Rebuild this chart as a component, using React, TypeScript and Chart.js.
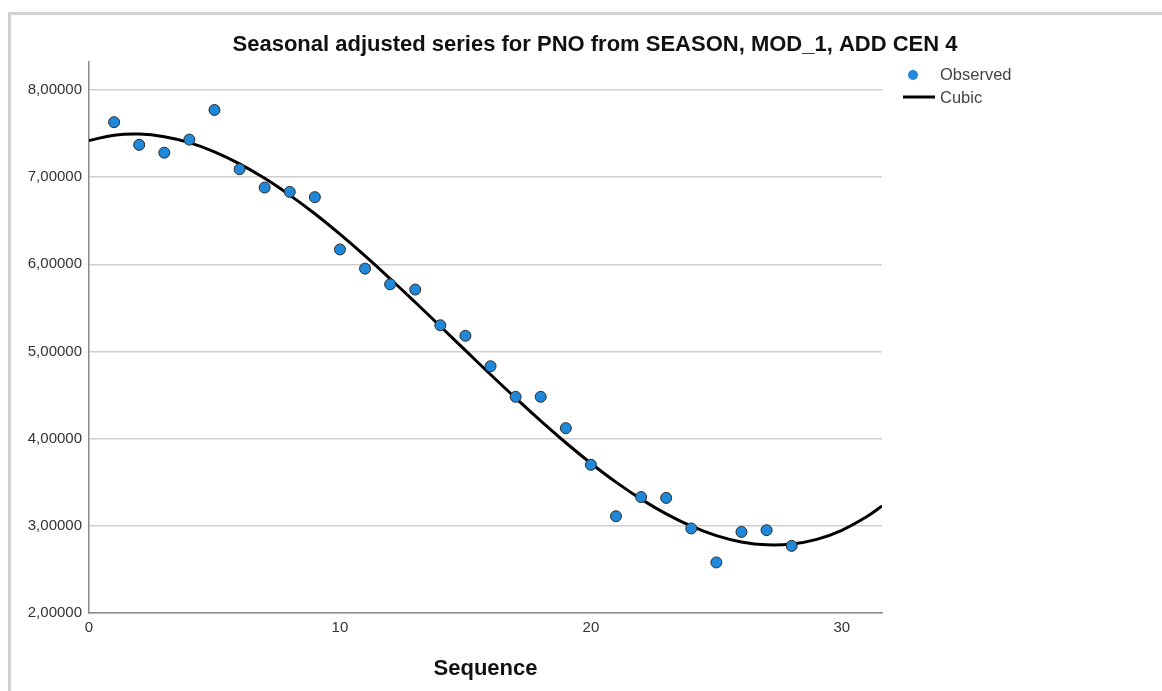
import React, { useEffect, useRef } from "react";
import { Chart, registerables } from "chart.js";

Chart.register(...registerables);

const chartTitle = "Seasonal adjusted series for PNO from SEASON, MOD_1, ADD CEN 4";
const xAxisTitle = "Sequence";
const legendLabels = ["Observed", "Cubic"];

const observedX = [1, 2, 3, 4, 5, 6, 7, 8, 9, 10, 11, 12, 13, 14, 15, 16, 17, 18, 19, 20, 21, 22, 23, 24, 25, 26, 27, 28];
const observedY = [7.63, 7.37, 7.28, 7.43, 7.77, 7.09, 6.88, 6.83, 6.77, 6.17, 5.95, 5.77, 5.71, 5.30, 5.18, 4.83, 4.48, 4.48, 4.12, 3.70, 3.11, 3.33, 3.32, 2.97, 2.58, 2.93, 2.95, 2.77];

const cubicX = [0, 1, 2, 3, 4, 5, 6, 7, 8, 9, 10, 11, 12, 13, 14, 15, 16, 17, 18, 19, 20, 21, 22, 23, 24, 25, 26, 27, 28, 29, 30, 31, 31.6];
const cubicY = [7.42, 7.48, 7.493, 7.463, 7.395, 7.29, 7.152, 6.986, 6.793, 6.579, 6.345, 6.096, 5.834, 5.564, 5.289, 5.012, 4.736, 4.466, 4.203, 3.953, 3.718, 3.501, 3.306, 3.137, 2.996, 2.888, 2.815, 2.782, 2.791, 2.845, 2.949, 3.106, 3.227];

const xMin = 0;
const xMax = 31.6;
const yMin = 2;
const yMax = 8.32;

const FONT = "'Liberation Sans', Arial, sans-serif";
const POINT_BLUE = "#1f88d8";

const overlayPlugin = {
  id: "overlayText",
  afterDraw(chart: any) {
    const ctx = chart.ctx;
    const area = chart.chartArea;
    ctx.save();
    // title
    ctx.fillStyle = "#111";
    ctx.font = `bold 22px ${FONT}`;
    ctx.textAlign = "center";
    ctx.textBaseline = "middle";
    ctx.fillText(chartTitle, 595, 45);
    // x axis title
    ctx.fillText(xAxisTitle, (area.left + area.right) / 2, 669);
    // legend
    ctx.font = `16.5px ${FONT}`;
    ctx.fillStyle = "#444";
    ctx.textAlign = "left";
    ctx.fillText(legendLabels[0], 940, 75);
    ctx.fillText(legendLabels[1], 940, 98);
    ctx.beginPath();
    ctx.arc(913, 75, 5, 0, Math.PI * 2);
    ctx.fillStyle = POINT_BLUE;
    ctx.fill();
    ctx.beginPath();
    ctx.moveTo(903, 97);
    ctx.lineTo(935, 97);
    ctx.strokeStyle = "#000";
    ctx.lineWidth = 3;
    ctx.stroke();
    ctx.restore();
  },
};

export default function App() {
  const ref = useRef<HTMLCanvasElement | null>(null);
  useEffect(() => {
    if (!ref.current) return;
    const chart = new Chart(ref.current, {
      type: "scatter",
      data: {
        datasets: [
          {
            label: legendLabels[0],
            data: observedX.map((x, i) => ({ x, y: observedY[i] })),
            backgroundColor: POINT_BLUE,
            borderColor: "#2a2a2a",
            borderWidth: 1,
            pointRadius: 5.5,
            order: 0,
          },
          {
            label: legendLabels[1],
            data: cubicX.map((x, i) => ({ x, y: cubicY[i] })),
            showLine: true,
            borderColor: "#000",
            borderWidth: 3,
            pointRadius: 0,
            tension: 0.4,
            order: 1,
          } as any,
        ],
      },
      options: {
        responsive: false,
        animation: false,
        devicePixelRatio: 1,
        layout: { padding: { left: 0, right: 280, top: 62, bottom: 0 } },
        plugins: {
          legend: { display: false },
          title: { display: false },
          tooltip: { enabled: false },
        },
        scales: {
          x: {
            type: "linear",
            min: xMin,
            max: xMax,
            afterFit: (s: any) => {
              s.height = 78;
            },
            ticks: {
              stepSize: 10,
              includeBounds: false,
              padding: 6,
              color: "#333",
              font: { family: FONT, size: 15 },
              maxRotation: 0,
            },
            grid: { display: false, drawTicks: false },
            border: { display: true, color: "#8a8a8a", width: 1.5 },
          },
          y: {
            type: "linear",
            min: yMin,
            max: yMax,
            afterFit: (s: any) => {
              s.width = 89;
            },
            ticks: {
              stepSize: 1,
              includeBounds: false,
              padding: 7,
              color: "#333",
              font: { family: FONT, size: 15 },
              callback: (v: any) => Number(v).toFixed(5).replace(".", ","),
            },
            grid: { color: "#cfcfcf", lineWidth: 1.5, drawTicks: false },
            border: { display: true, color: "#8a8a8a", width: 1.5 },
          },
        },
      },
      plugins: [overlayPlugin],
    });
    return () => chart.destroy();
  }, []);

  return (
    <div style={{ position: "fixed", left: 0, top: 0, width: 1162, height: 691, background: "#fff" }}>
      <div
        style={{
          position: "absolute",
          left: 8,
          top: 12,
          right: 0,
          bottom: 0,
          borderLeft: "3px solid #d2d2d2",
          borderTop: "3px solid #d2d2d2",
        }}
      />
      <canvas ref={ref} width={1162} height={691} style={{ position: "absolute", left: 0, top: 0, width: 1162, height: 691 }} />
    </div>
  );
}
